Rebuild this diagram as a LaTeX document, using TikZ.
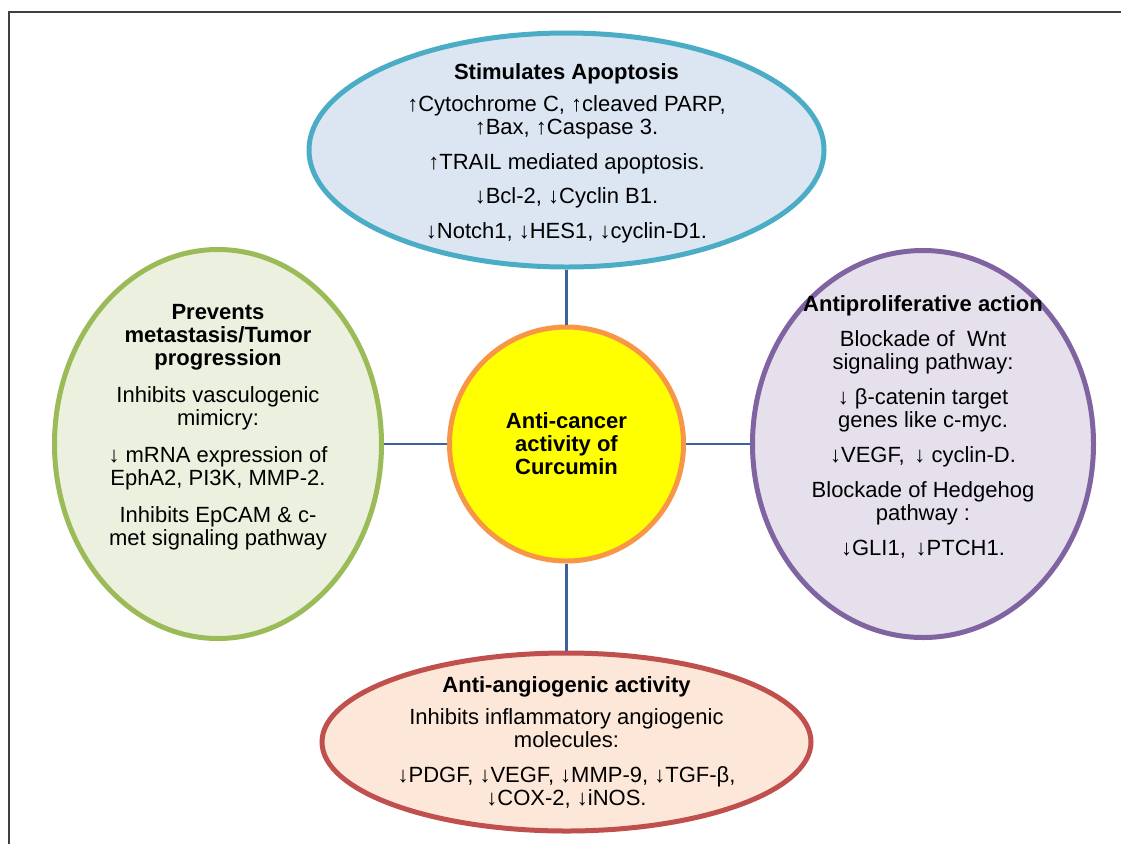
\documentclass[tikz,border=0pt]{standalone}
\usepackage{fontspec}
\setmainfont{Liberation Sans}
\usetikzlibrary{positioning,shapes.geometric}
\definecolor{apopedge}{RGB}{75,172,198}
\definecolor{apopfill}{RGB}{220,230,242}
\definecolor{metaedge}{RGB}{155,187,89}
\definecolor{metafill}{RGB}{235,241,222}
\definecolor{prolifedge}{RGB}{128,100,162}
\definecolor{prolifill}{RGB}{229,224,236}
\definecolor{angioedge}{RGB}{192,80,77}
\definecolor{angiofill}{RGB}{252,231,216}
\definecolor{hubedge}{RGB}{247,150,70}
\definecolor{hubfill}{RGB}{255,255,0}
\definecolor{linkblue}{RGB}{62,98,158}
\tikzset{
  bubble/.style={
    ellipse,
    line width=5pt,
    inner sep=0pt},
  hubnode/.style={
    circle,
    draw=hubedge, fill=hubfill,
    line width=5pt,
    minimum size=234pt,
    inner sep=0pt},
  blurb/.style={
    align=center,
    inner sep=0pt,
    font=\fontsize{22}{23}\selectfont},
  link/.style={draw=linkblue, line width=2.5pt},
  frameline/.style={draw=black!75, line width=1.5pt},
}

\begin{document}
\begin{tikzpicture}[x=1pt,y=-1pt]
\useasboundingbox (0,0) rectangle (1121,844);
\draw[frameline] (9,844) -- (9,12) -- (1121,12);

%Nodes
\node[hubnode]  (curcumin)  at (566.5,444) {};
\node[bubble, draw=apopedge, fill=apopfill, minimum width=515pt, minimum height=234pt]
      (apoptosis)   [above=55pt of curcumin] {};
\node[bubble, draw=metaedge, fill=metafill, minimum width=327pt, minimum height=389pt]
      (metastasis)  [left=63pt of curcumin] {};
\node[bubble, draw=prolifedge, fill=prolifill, minimum width=341pt, minimum height=387pt]
      (antiprolif)  [right=64pt of curcumin] {};
\node[bubble, draw=angioedge, fill=angiofill, minimum width=489pt, minimum height=178pt]
      (angiogenic)  [below=87pt of curcumin] {};

%Texts
\node[blurb] (curcumin-text) at (curcumin.center)
  {\textbf{Anti-cancer}\\\textbf{activity of}\\\textbf{Curcumin}};
\node[blurb] (apoptosis-text) [yshift=-3pt] at (apoptosis.center)
  {\textbf{Stimulates Apoptosis}\\[9pt]
   ↑Cytochrome C, ↑cleaved PARP,\\ ↑Bax, ↑Caspase 3.\\[12pt]
   ↑TRAIL mediated apoptosis.\\[11pt]
   ↓Bcl-2, ↓Cyclin B1.\\[12pt]
   ↓Notch1, ↓HES1, ↓cyclin-D1.};
\node[blurb] (metastasis-text) [yshift=17pt] at (metastasis.center)
  {\textbf{Prevents}\\\textbf{metastasis/Tumor}\\\textbf{progression}\\[14pt]
   Inhibits vasculogenic\\ mimicry:\\[14pt]
   ↓ mRNA expression of\\ EphA2, PI3K, MMP-2.\\[14pt]
   Inhibits EpCAM \& c-\\ met signaling pathway};
\node[blurb] (antiprolif-text) [yshift=17pt] at (antiprolif.center)
  {\textbf{Antiproliferative action}\\[12pt]
   Blockade of \ Wnt\\ signaling pathway:\\[12pt]
   ↓ β-catenin target\\ genes like c-myc.\\[12pt]
   ↓VEGF, \,↓ cyclin-D.\\[12pt]
   Blockade of Hedgehog\\ pathway :\\[12pt]
   ↓GLI1, \,↓PTCH1.};
\node[blurb] (angiogenic-text) at (angiogenic.center)
  {\textbf{Anti-angiogenic activity}\\[9pt]
   Inhibits inflammatory angiogenic\\ molecules:\\[12pt]
   ↓PDGF, ↓VEGF, ↓MMP-9, ↓TGF-β,\\ ↓COX-2, ↓iNOS.};

%Lines
\draw[link] (apoptosis) -- (curcumin);
\draw[link] (metastasis) -- (curcumin);
\draw[link] (antiprolif) -- (curcumin);
\draw[link] (angiogenic) -- (curcumin);

\end{tikzpicture}
\end{document}
